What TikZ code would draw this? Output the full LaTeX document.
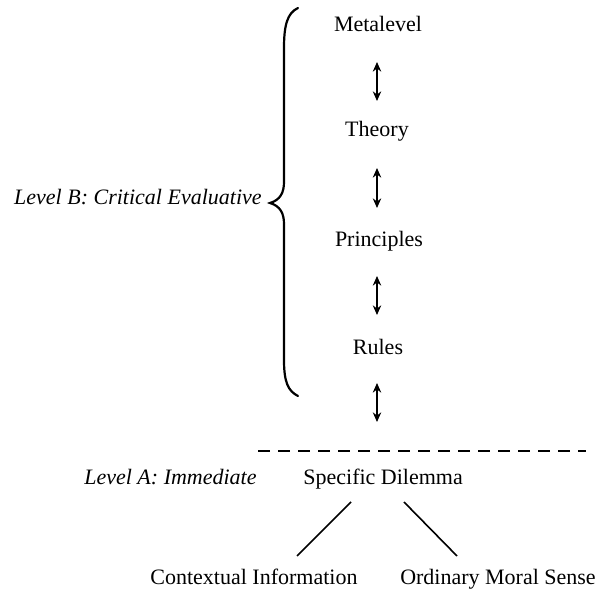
\documentclass[tikz,border=0pt]{standalone}
\usepackage{fontspec}
\setmainfont{Liberation Serif}
\usetikzlibrary{arrows.meta}
\begin{document}
\begin{tikzpicture}[x=0.5pt,y=-0.5pt,
  lbl/.style={anchor=base, inner sep=0pt, font=\fontsize{11}{13}\selectfont},
  lvl/.style={anchor=base east, inner sep=0pt, font=\fontsize{11}{13}\selectfont\itshape},
  dbl/.style={{Stealth[length=4.8pt,width=4.2pt]}-{Stealth[length=4.8pt,width=4.2pt]}, line width=0.75pt},
  thin line/.style={line width=0.8pt},
  brace/.style={line width=1.1pt, line cap=round},
  divider/.style={line width=1.3pt, dash pattern=on 6pt off 4pt}]
\useasboundingbox (0,0) rectangle (600,598);

% levels of the hierarchy
\node[lbl] (meta)   at (378,32)  {Metalevel};
\node[lbl] (theory) at (377,137) {Theory};
\node[lbl] (princ)  at (379,247) {Principles};
\node[lbl] (rules)  at (378,355) {Rules};

% two-way arrows between the levels
\coordinate (a1) at (377,62);  \coordinate (b1) at (377,101);
\coordinate (a2) at (377,168); \coordinate (b2) at (377,208);
\coordinate (a3) at (377,276); \coordinate (b3) at (377,315);
\coordinate (a4) at (377,383); \coordinate (b4) at (377,422);
\draw[dbl] (a1) -- (b1);
\draw[dbl] (a2) -- (b2);
\draw[dbl] (a3) -- (b3);
\draw[dbl] (a4) -- (b4);

% curly brace grouping the critical level
\draw[brace] (298,8) .. controls (287,13) and (284,26) .. (284,48)
  -- (284,182) .. controls (284,193) and (280,200) .. (270,203)
  .. controls (280,206) and (284,213) .. (284,224)
  -- (284,360) .. controls (284,382) and (288,391) .. (298,396);
\node[lvl] (lvlB) at (262,205) {Level B: Critical Evaluative};

% divider between the two levels
\coordinate (dl) at (258,451);
\coordinate (dr) at (586,451);
\draw[divider] (dl) -- (dr);

% immediate level
\node[lvl] (lvlA) at (257,485) {Level A: Immediate};
\node[lbl, anchor=base west] (dil) at (303,485) {Specific Dilemma};

\node[lbl] (ctx) at (254,585) {Contextual Information};
\node[lbl] (oms) at (498,585) {Ordinary Moral Sense};

\coordinate (l1) at (351,502); \coordinate (l2) at (297,556);
\coordinate (r1) at (404,502); \coordinate (r2) at (457,556);
\draw[thin line] (l1) -- (l2);
\draw[thin line] (r1) -- (r2);
\end{tikzpicture}
\end{document}
